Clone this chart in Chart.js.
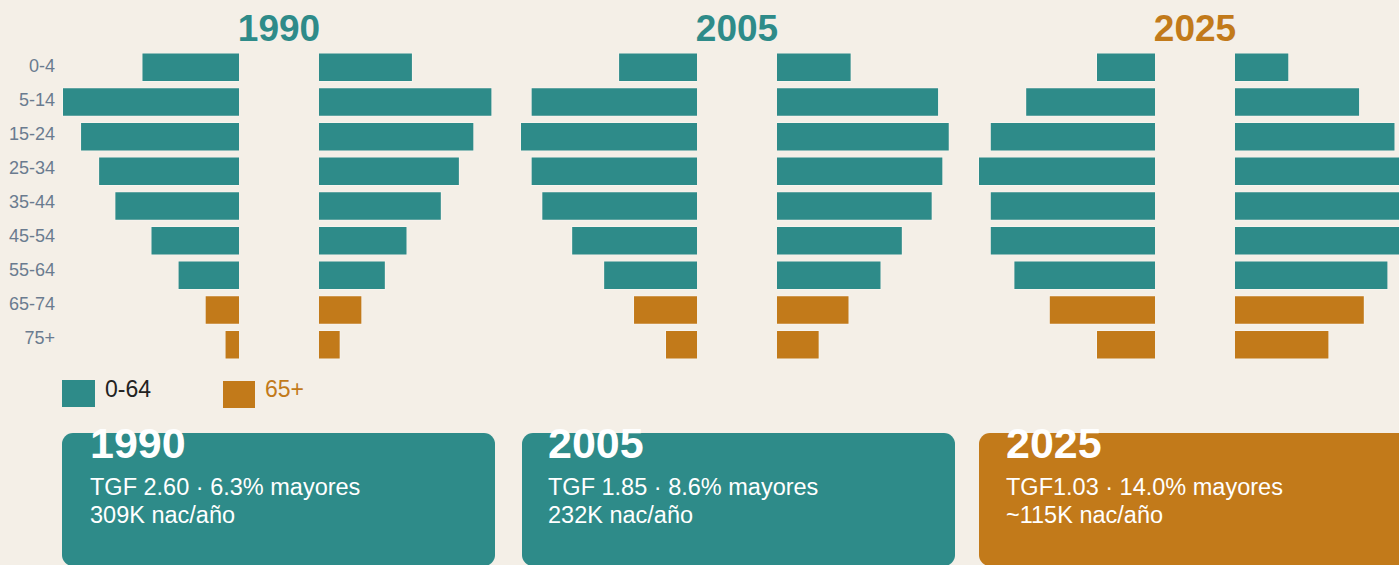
<!DOCTYPE html>
<html>
<head>
<meta charset="utf-8">
<script src="https://cdn.jsdelivr.net/npm/chart.js"></script>
<style>
  html, body { margin: 0; padding: 0; }
  body {
    width: 1399px; height: 565px; overflow: hidden; position: relative;
    background: #f4efe7; font-family: "Liberation Sans", Arial, Helvetica, sans-serif;
  }
  .abs { position: absolute; }
  .ptitle { font-weight: bold; font-size: 37px; line-height: 37px; width: 200px; text-align: center; }
  .agelabel { width: 55px; height: 34px; line-height: 34px; text-align: right; font-size: 18px; color: #6a7b8f; }
  .card { border-radius: 11px; height: 133px; top: 433px; }
  .card-title { font-weight: bold; font-size: 43px; line-height: 43px; color: #fff; white-space: nowrap; }
  .card-line { font-size: 23.5px; line-height: 23.5px; color: #fff; white-space: nowrap; }
</style>
</head>
<body>
<script>
document.addEventListener('DOMContentLoaded', function () {

    // grupos de edad y años
    const ageGroups = ['0-4', '5-14', '15-24', '25-34', '35-44', '45-54', '55-64', '65-74', '75+'];
    const olderGroups = ['65-74', '75+'];
    const years = ['1990', '2005', '2025'];

    // % de la población por grupo (lado izquierdo / lado derecho)
    const left1990  = [5.4, 9.8, 8.8, 7.8, 6.9, 4.9, 3.4, 1.9, 0.8];
    const right1990 = [5.2, 9.6, 8.6, 7.8, 6.8, 4.9, 3.7, 2.4, 1.2];
    const left2005  = [3.7, 7.8, 8.3, 7.8, 7.3, 5.9, 4.4, 3.0, 1.5];
    const right2005 = [3.5, 7.6, 8.1, 7.8, 7.3, 5.9, 4.9, 3.4, 2.0];
    const left2025  = [2.5, 5.5, 7.0, 7.5, 7.0, 7.0, 6.0, 4.5, 2.5];
    const right2025 = [2.3, 5.3, 6.8, 7.3, 7.2, 7.1, 6.5, 5.5, 4.0];

    // textos de las tarjetas
    const cardLine1 = ['TGF 2.60 · 6.3% mayores', 'TGF 1.85 · 8.6% mayores', 'TGF1.03 · 14.0% mayores'];
    const cardLine2 = ['309K nac/año', '232K nac/año', '~115K nac/año'];
    const legendLabels = ['0-64', '65+'];

    const TEAL = '#2e8b89';
    const ORANGE = '#c27a1a';
    const yearColors = [TEAL, TEAL, ORANGE];

    const pyramids = [
        { left: left1990, right: right1990 },
        { left: left2005, right: right2005 },
        { left: left2025, right: right2025 }
    ];

    const barColors = ageGroups.map(g => olderGroups.includes(g) ? ORANGE : TEAL);

    function addEl(cls, x, y, text, style) {
        const el = document.createElement('div');
        el.className = 'abs ' + cls;
        el.style.left = x + 'px';
        el.style.top = y + 'px';
        if (text !== undefined) el.textContent = text;
        Object.assign(el.style, style || {});
        document.body.appendChild(el);
        return el;
    }

    function makeChart(x, data, max, reverse) {
        const canvas = document.createElement('canvas');
        canvas.width = 177;
        canvas.height = 312;
        canvas.className = 'abs';
        canvas.style.left = x + 'px';
        canvas.style.top = '50px';
        document.body.appendChild(canvas);
        new Chart(canvas.getContext('2d'), {
            type: 'bar',
            data: {
                labels: ageGroups,
                datasets: [{
                    data: data,
                    backgroundColor: barColors,
                    borderColor: 'rgba(255,255,255,0.3)',
                    borderWidth: 1,
                    categoryPercentage: 1,
                    barPercentage: 0.85
                }]
            },
            options: {
                indexAxis: 'y',
                responsive: false,
                animation: false,
                layout: { padding: 0 },
                plugins: { legend: { display: false }, tooltip: { enabled: false } },
                scales: {
                    x: { display: false, min: 0, max: max, reverse: reverse },
                    y: { display: false }
                }
            }
        });
    }

    // etiquetas de edad
    ageGroups.forEach((g, i) => addEl('agelabel', 0, 48.8 + 34 * i, g));

    const cardX = [62, 522, 979];
    const textPad = [28, 26, 27];

    pyramids.forEach((p, n) => {
        const x0 = 62 + 458 * n;
        const max = Math.max(...p.left, ...p.right);
        makeChart(x0, p.left, max, true);
        makeChart(x0 + 257, p.right, max, false);
        addEl('ptitle', x0 + 117, 9.7, years[n], { color: yearColors[n] });

        // tarjeta resumen
        const cx = cardX[n];
        addEl('card', cx, 433, undefined, { width: (n === 2 ? 440 : 433) + 'px', background: yearColors[n] });
        addEl('card-title', cx + textPad[n], 421.6, years[n]);
        addEl('card-line', cx + textPad[n], 476.1, cardLine1[n]);
        addEl('card-line', cx + textPad[n], 504.1, cardLine2[n]);
    });

    // leyenda
    addEl('', 62, 380, undefined, { width: '33px', height: '27px', background: TEAL });
    addEl('', 105, 377.8, legendLabels[0], { fontSize: '23px', lineHeight: '23px', color: '#222' });
    addEl('', 223, 381, undefined, { width: '32px', height: '27px', background: ORANGE });
    addEl('', 265, 377.8, legendLabels[1], { fontSize: '23px', lineHeight: '23px', color: ORANGE });
});
</script>
</body>
</html>
